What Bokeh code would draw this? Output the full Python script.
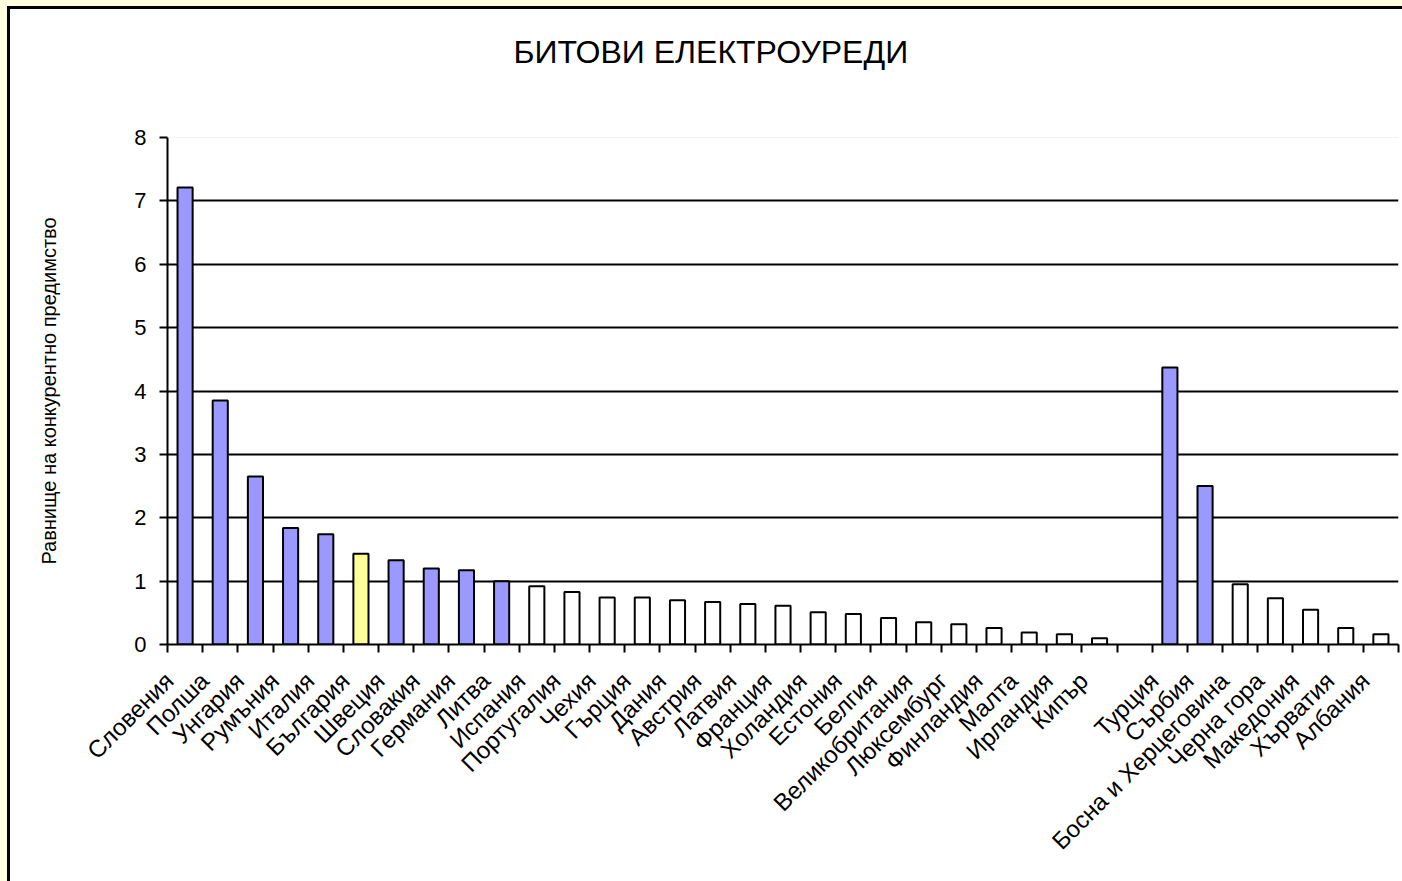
import math
from bokeh.plotting import figure
from bokeh.models import Range1d, FixedTicker, Span, Title
from bokeh.embed import file_html
from bokeh.resources import INLINE

# ---- data ----
countries = ["Словения", "Полша", "Унгария", "Румъния", "Италия", "България",
             "Швеция", "Словакия", "Германия", "Литва", "Испания", "Португалия",
             "Чехия", "Гърция", "Дания", "Австрия", "Латвия", "Франция",
             "Холандия", "Естония", "Белгия", "Великобритания", "Люксембург",
             "Финландия", "Малта", "Ирландия", "Кипър", "",
             "Турция", "Сърбия", "Босна и Херцеговина", "Черна гора",
             "Македония", "Хърватия", "Албания"]
values = [7.21, 3.85, 2.65, 1.84, 1.74, 1.43,
          1.33, 1.20, 1.17, 1.00, 0.92, 0.83,
          0.74, 0.74, 0.70, 0.67, 0.64, 0.61,
          0.51, 0.48, 0.42, 0.35, 0.32,
          0.26, 0.19, 0.16, 0.10, None,
          4.37, 2.50, 0.95, 0.73,
          0.55, 0.26, 0.16]
highlight = "България"
y_ticks = [0, 1, 2, 3, 4, 5, 6, 7, 8]

BLUE = "#9999FF"
YELLOW = "#FFFF99"
WHITE = "#FFFFFF"
FONT = "Liberation Sans"

xs, tops, colors = [], [], []
for i, (c, v) in enumerate(zip(countries, values)):
    if v is None:
        continue
    xs.append(i)
    tops.append(v)
    if c == highlight:
        colors.append(YELLOW)
    elif v >= 1.0:
        colors.append(BLUE)
    else:
        colors.append(WHITE)

n = len(countries)
p = figure(width=1392, height=872, output_backend="svg", toolbar_location=None,
           x_range=Range1d(-0.5, n - 0.5), y_range=Range1d(0, 8),
           min_border_left=157, min_border_right=4, min_border_bottom=237,
           min_border_top=128)
p.background_fill_color = "white"
p.border_fill_color = "white"
p.outline_line_color = None

# title (a small spacer title keeps the main title high above the plot area)
p.title = None
spacer = Title(text=" ", text_font_size="10px", standoff=50,
               text_font=FONT, text_color="white")
main_title = Title(text="БИТОВИ ЕЛЕКТРОУРЕДИ", align="left", offset=346,
                   text_font_size="32px", text_font_style="normal",
                   text_font=FONT, text_color="black", standoff=10)
p.add_layout(spacer, "above")
p.add_layout(main_title, "above")

p.vbar(x=xs, top=tops, width=0.43, bottom=0, fill_color=colors,
       line_color="black", line_width=2)

# grid
p.xgrid.visible = False
p.ygrid.ticker = FixedTicker(ticks=y_ticks[1:-1])
p.ygrid.grid_line_color = "black"
p.ygrid.grid_line_width = 2
p.add_layout(Span(location=y_ticks[-1], dimension="width",
                  line_color="#E6E6E6", line_width=1))

# y axis
p.yaxis.ticker = FixedTicker(ticks=y_ticks)
p.yaxis.axis_line_color = "black"
p.yaxis.axis_line_width = 2
p.yaxis.major_tick_line_color = "black"
p.yaxis.major_tick_line_width = 2
p.yaxis.major_tick_out = 8
p.yaxis.major_tick_in = 0
p.yaxis.minor_tick_line_color = None
p.yaxis.major_label_text_font = FONT
p.yaxis.major_label_text_font_size = "22px"
p.yaxis.major_label_text_color = "black"
p.yaxis.major_label_standoff = 13
p.yaxis.axis_label = "Равнище на конкурентно предимство"
p.yaxis.axis_label_text_font = FONT
p.yaxis.axis_label_text_font_size = "20px"
p.yaxis.axis_label_text_font_style = "normal"
p.yaxis.axis_label_text_color = "black"
p.yaxis.axis_label_standoff = 71

# x axis: labels slightly left of each bar (as in the original), ticks between bars
label_pos = [i - 0.45 for i in range(n)]
p.xaxis.ticker = FixedTicker(ticks=label_pos,
                             minor_ticks=[i - 0.5 for i in range(n + 1)])
p.xaxis.major_label_overrides = {t: c for t, c in zip(label_pos, countries)}
p.xaxis.major_label_orientation = math.pi / 4
p.xaxis.axis_line_color = "black"
p.xaxis.axis_line_width = 2
p.xaxis.major_tick_out = 0
p.xaxis.major_tick_in = 0
p.xaxis.major_tick_line_color = None
p.xaxis.minor_tick_line_color = "black"
p.xaxis.minor_tick_line_width = 2
p.xaxis.minor_tick_out = 8
p.xaxis.minor_tick_in = 0
p.xaxis.major_label_text_font = FONT
p.xaxis.major_label_text_font_size = "24px"
p.xaxis.major_label_text_color = "black"
p.xaxis.major_label_standoff = 24

html = file_html(p, INLINE)
css = ("<style>"
       "html { background-color: #FFFFE0 !important; height: 100%; overflow: hidden; } "
       "body { background-color: #FFFFFF !important; margin: 6px 0 0 7px !important; "
       "padding: 0 !important; border-left: 3px solid black; border-top: 3px solid black; "
       "box-sizing: border-box; height: calc(100% - 6px) !important; overflow: hidden; }"
       "</style>")
html = html.replace("</head>", css + "</head>", 1)
open("out.html", "w").write(html)
